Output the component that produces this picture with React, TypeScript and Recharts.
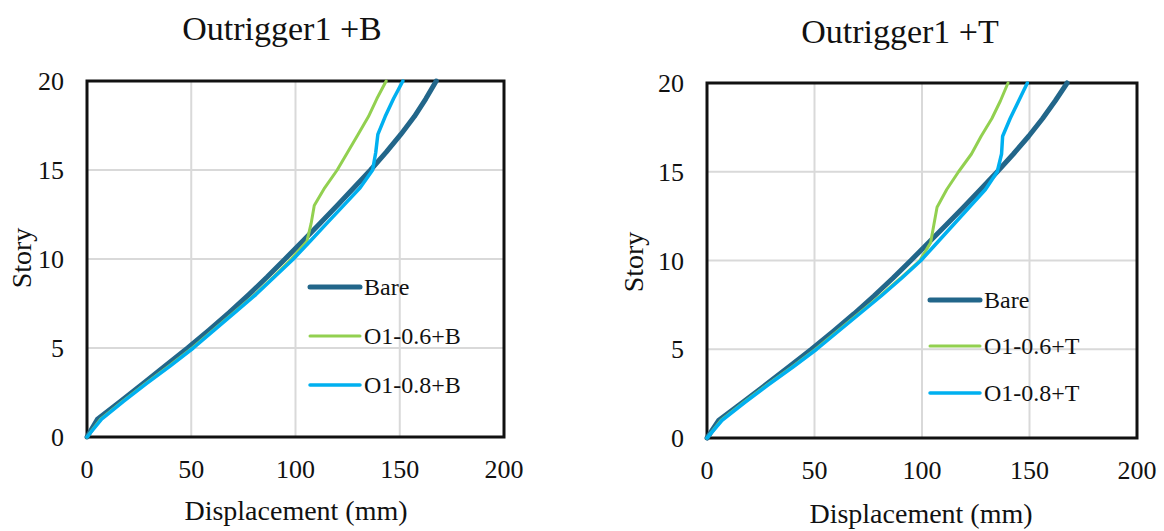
import React from "react"
import {
  ScatterChart,
  Scatter,
  XAxis,
  YAxis,
  CartesianGrid,
  ReferenceArea,
  Legend,
} from "recharts"

const FONT = "Liberation Serif, DejaVu Serif, serif"

const stories = [0, 1, 2, 3, 4, 5, 6, 7, 8, 9, 10, 11, 12, 13, 14, 15, 16, 17, 18, 19, 20]
const xTicks = [0, 50, 100, 150, 200]
const yTicks = [0, 5, 10, 15, 20]

// Outrigger1 +B (displacement in mm per story)
const bareB = [0, 5, 16, 26.8, 37.6, 48.3, 58.5, 68.3, 77.6, 86.5, 95, 103.4, 111.7, 120, 128, 136, 143.5, 150.5, 157, 162.5, 167.5]
const o06B = [0, 6.5, 17, 28, 39.5, 50.5, 60.5, 70.5, 80.5, 89.5, 98, 105.5, 107.5, 109, 114, 120, 125, 130, 135, 139, 143.5]
const o08B = [0, 7, 17.5, 28.5, 40, 51, 61, 71, 81, 90, 99, 107, 115, 123, 131, 137, 138.5, 139.5, 143, 147, 151.5]

// Outrigger1 +T
const bareT = [0, 5.5, 16.5, 27.3, 38, 48.6, 58.7, 68.4, 77.6, 86.4, 94.8, 103, 111.2, 119.3, 127.2, 135, 142.5, 149.6, 156.1, 162, 167.5]
const o06T = [0, 6.5, 17, 28, 39.5, 50.5, 60.5, 70.5, 80.5, 90, 99, 104, 105.5, 107, 111.5, 117, 123, 127.5, 132.5, 136.5, 140]
const o08T = [0, 7, 17.5, 28.5, 40, 51, 61, 71, 81, 90.5, 99.5, 107, 114.5, 122, 129.5, 135, 137, 137.5, 141, 145, 149]

const toPoints = (values: number[]) => values.map((x, i) => ({ x, y: stories[i] }))

interface SeriesDef {
  name: string
  values: number[]
  color: string
  width: number
}

interface PanelProps {
  width: number
  marginRight: number
  top: number
  bottom: number
  series: SeriesDef[]
  legendLeft: number
  legendTops: number[]
}

const noDot = () => <g />

function Panel({ width, marginRight, top, bottom, series, legendLeft, legendTops }: PanelProps) {
  const tickStyle = { fontSize: 26, fill: "#111", fontFamily: FONT }
  return (
    <ScatterChart
      width={width}
      height={531}
      margin={{ top, right: marginRight, left: 0, bottom: 531 - bottom - 60 }}
    >
      <CartesianGrid stroke="#d9d9d9" strokeWidth={2} />
      <XAxis
        type="number"
        dataKey="x"
        domain={[0, 200]}
        ticks={xTicks}
        interval={0}
        axisLine={false}
        tickLine={false}
        tickSize={0}
        tickMargin={23}
        height={60}
        tick={tickStyle}
      />
      <YAxis
        type="number"
        dataKey="y"
        domain={[0, 20]}
        ticks={yTicks}
        interval={0}
        axisLine={false}
        tickLine={false}
        tickSize={0}
        tickMargin={23}
        width={87}
        tick={tickStyle}
      />
      <ReferenceArea x1={0} x2={200} y1={0} y2={20} fill="none" stroke="#111" strokeWidth={3} />
      {series.map((s) => (
        <Scatter
          key={s.name}
          name={s.name}
          data={toPoints(s.values)}
          fill={s.color}
          line={{ stroke: s.color, strokeWidth: s.width, strokeLinejoin: "round", strokeLinecap: "round" }}
          lineType="joint"
          shape={noDot}
          isAnimationActive={false}
        />
      ))}
      <Legend
        layout="vertical"
        align="center"
        verticalAlign="middle"
        wrapperStyle={{ left: legendLeft, top: 0, width: 200, height: 10 }}
        content={() => (
          <div style={{ position: "relative" }}>
            {series.map((s, i) => (
              <div
                key={s.name}
                style={{
                  position: "absolute",
                  left: 0,
                  top: legendTops[i] - 12,
                  height: 24,
                  display: "flex",
                  alignItems: "center",
                  whiteSpace: "nowrap",
                }}
              >
                <svg width={58} height={24}>
                  <line
                    x1={4}
                    x2={54}
                    y1={12}
                    y2={12}
                    stroke={s.color}
                    strokeWidth={s.width}
                    strokeLinecap="round"
                  />
                </svg>
                <span style={{ fontFamily: FONT, fontSize: 24, lineHeight: "24px", color: "#111" }}>{s.name}</span>
              </div>
            ))}
          </div>
        )}
      />
    </ScatterChart>
  )
}

const BARE = "#22668a"
const GREEN = "#92d050"
const BLUE = "#00b0f0"

const seriesB: SeriesDef[] = [
  { name: "Bare", values: bareB, color: BARE, width: 5 },
  { name: "O1-0.6+B", values: o06B, color: GREEN, width: 3 },
  { name: "O1-0.8+B", values: o08B, color: BLUE, width: 3.5 },
]

const seriesT: SeriesDef[] = [
  { name: "Bare", values: bareT, color: BARE, width: 5 },
  { name: "O1-0.6+T", values: o06T, color: GREEN, width: 3 },
  { name: "O1-0.8+T", values: o08T, color: BLUE, width: 3.5 },
]

const textBase: React.CSSProperties = {
  position: "absolute",
  fontFamily: FONT,
  color: "#111",
  lineHeight: 1,
  whiteSpace: "nowrap",
}

export default function App() {
  return (
    <div style={{ position: "absolute", left: 0, top: 0, width: 1164, height: 531, background: "#fff", overflow: "hidden" }}>
      <div style={{ position: "absolute", left: 0, top: 0 }}>
        <Panel width={545} marginRight={41} top={81} bottom={437} series={seriesB} legendLeft={306} legendTops={[287, 336, 385]} />
      </div>
      <div style={{ position: "absolute", left: 620, top: 0 }}>
        <Panel width={544} marginRight={27} top={83} bottom={438} series={seriesT} legendLeft={306} legendTops={[300, 346, 393]} />
      </div>

      <div style={{ ...textBase, fontSize: 34, left: 282, top: 11.5, transform: "translateX(-50%)" }}>Outrigger1 +B</div>
      <div style={{ ...textBase, fontSize: 34, left: 900, top: 14.5, transform: "translateX(-50%)" }}>Outrigger1 +T</div>

      <div style={{ ...textBase, fontSize: 28, left: 296, top: 496.5, transform: "translateX(-50%)" }}>Displacement (mm)</div>
      <div style={{ ...textBase, fontSize: 28, left: 921, top: 499.5, transform: "translateX(-50%)" }}>Displacement (mm)</div>

      <div style={{ ...textBase, fontSize: 28, left: 22, top: 258, transform: "translate(-50%, -50%) rotate(-90deg)" }}>Story</div>
      <div style={{ ...textBase, fontSize: 28, left: 634, top: 262, transform: "translate(-50%, -50%) rotate(-90deg)" }}>Story</div>
    </div>
  )
}
